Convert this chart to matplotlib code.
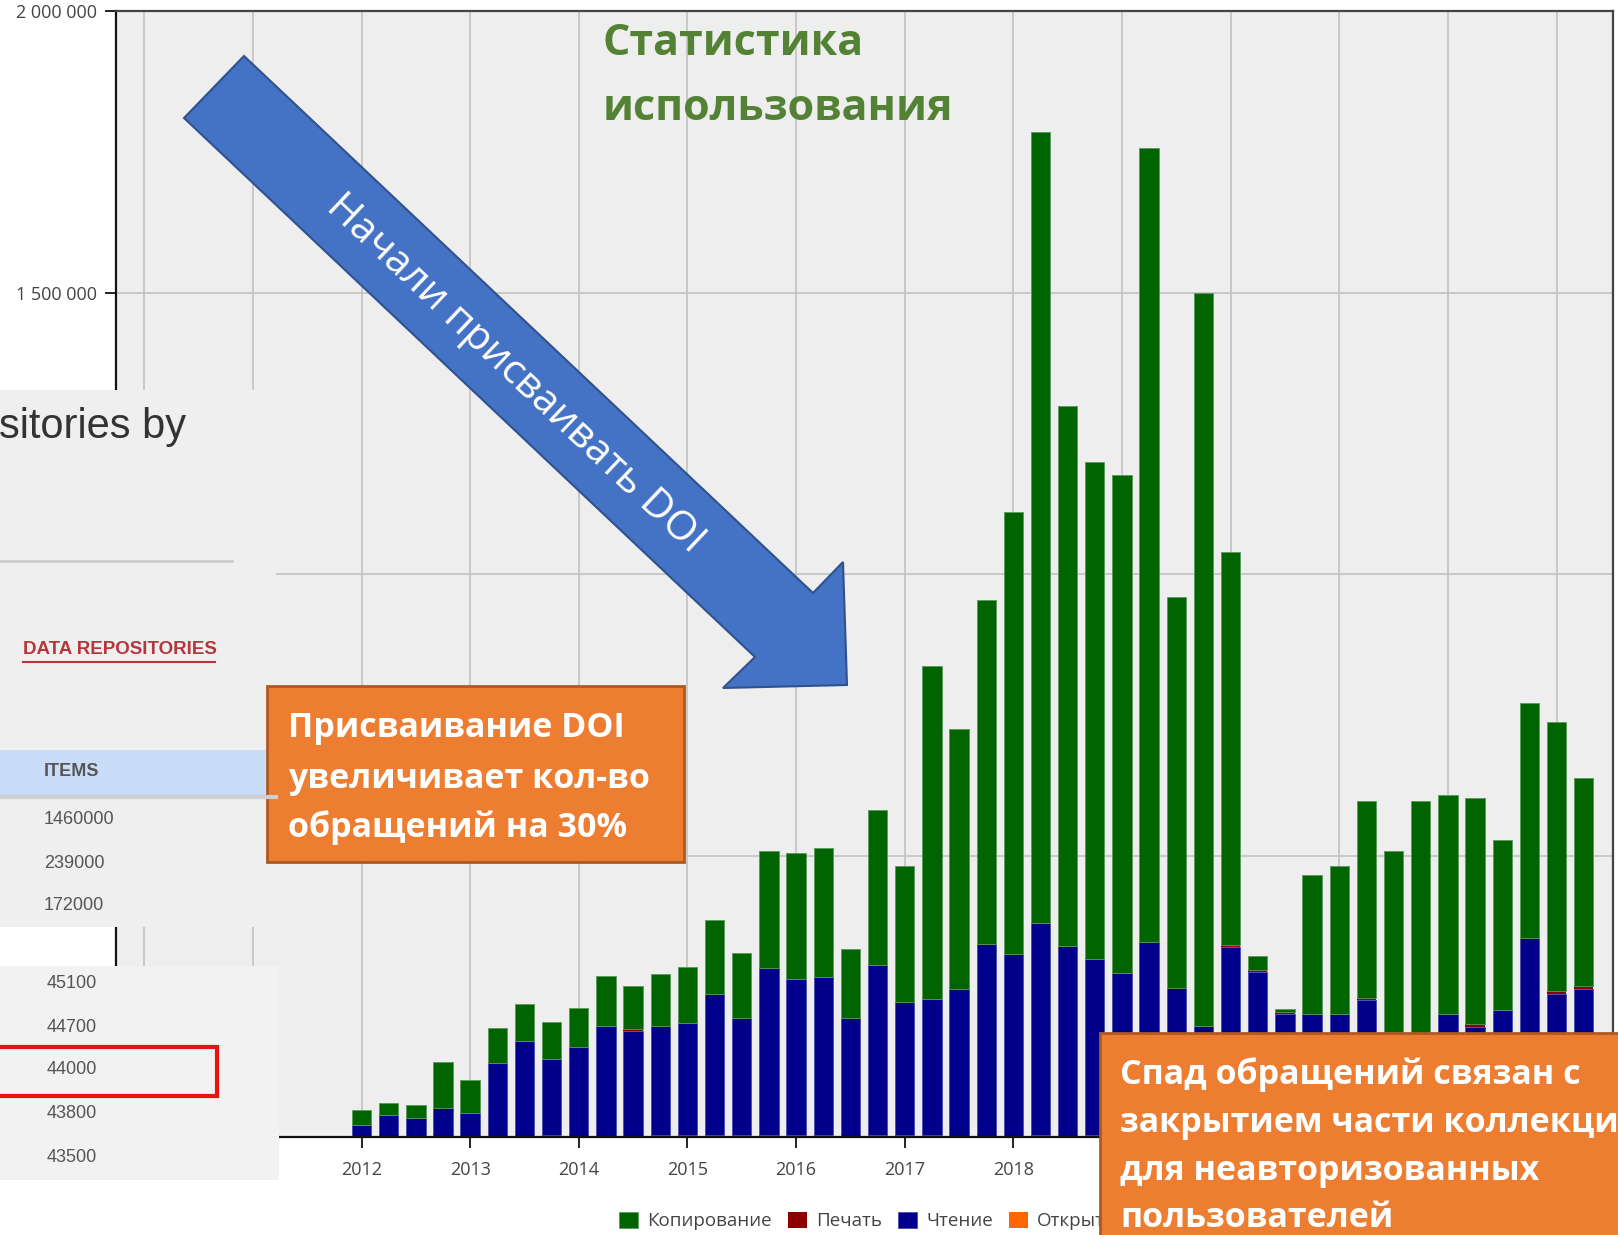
import matplotlib
matplotlib.use("Agg")
import matplotlib.pyplot as plt
from matplotlib.patches import Polygon, Rectangle
import numpy as np

W, H, DPI = 1618, 1235, 100

# ---------------- data (quarterly, starting 2012 Q1) ----------------
first_year = 2012
reading = [22000, 38500, 33000, 51000, 42000, 132000, 170500, 135000, 159500, 198000,
           188000, 194000, 197600, 250800, 206800, 296600, 276400, 280000, 210800, 302000,
           236000, 241600, 262000, 342800, 324400, 375400, 339000, 311300, 291400, 346400,
           264000, 198000, 337000, 293000, 219000, 218000, 218000, 243500, 186000, 180000,
           218000, 196000, 225500, 353800, 254500, 263600]          # Чтение
copying = [25700, 22000, 23800, 82800, 58800, 62300, 66000, 64500, 69500, 88000,
           75600, 91600, 100800, 130200, 115200, 207100, 223600, 229000, 122800, 275000,
           242000, 590400, 462000, 610200, 786600, 1405600, 959000, 883700, 883600, 1409600,
           696000, 1301000, 698000, 23800, 5000, 247600, 264000, 350100, 321700, 417600,
           388700, 403000, 302500, 417900, 478500, 370400]          # Копирование
printing = [0, 0, 0, 0, 0, 0, 0, 0, 0, 0,
            4000, 0, 0, 0, 0, 0, 0, 0, 0, 0,
            0, 0, 0, 0, 0, 0, 0, 0, 0, 0,
            0, 0, 4000, 4000, 3000, 0, 0, 4000, 0, 0,
            0, 4000, 0, 0, 4000, 4000]                              # Печать
opening = [0, 0, 0, 0, 0, 0, 0, 4000, 0, 0,
           0, 4000, 4000, 4000, 4000, 4000, 4000, 4000, 0, 4000,
           4000, 4000, 0, 0, 0, 4000, 0, 4000, 0, 0,
           0, 0, 0, 0, 0, 0, 0, 0, 0, 0,
           0, 0, 0, 0, 0, 0]                                        # Открытие

year_ticks = list(range(2010, 2024))
visible_year_labels = ["", "", "2012", "2013", "2014", "2015", "2016", "2017", "2018",
                       "", "", "", "", ""]   # the rest are hidden behind the overlays
y_ticks = [0, 500000, 1000000, 1500000, 2000000]
visible_y_labels = ["", "", "", "1 500 000", "2 000 000"]  # lower ones hidden by overlay
legend_labels = ["Копирование", "Печать", "Чтение", "Открытие"]

table_top_values = ["1460000", "239000", "172000"]
table_bottom_values = ["45100", "44700", "44000", "43800", "43500"]

title_lines = ["Статистика", "использования"]
arrow_text = "Начали присваивать DOI"
note1_lines = ["Присваивание DOI", "увеличивает кол-во", "обращений на 30%"]
note2_lines = ["Спад обращений связан с", "закрытием части коллекций",
               "для неавторизованных", "пользователей"]

# ---------------- colours ----------------
C_COPY, C_PRINT, C_READ, C_OPEN = "#006400", "#8B0000", "#00008B", "#FF6600"
ORANGE, ORANGE_EDGE = "#ED7D31", "#AE5A21"
ARROW, ARROW_EDGE = "#4472C4", "#2F528F"
TITLE_GREEN = "#548235"
SANS = ["Open Sans", "DejaVu Sans"]
ARIAL = ["Liberation Sans", "DejaVu Sans"]

fig = plt.figure(figsize=(W / DPI, H / DPI), dpi=DPI)
fig.patch.set_facecolor("white")

# ---------------- main chart ----------------
ax = fig.add_axes([116 / W, 1 - 1137 / H, (1613 - 116) / W, (1137 - 11) / H])
ax.set_facecolor("#eeeeee")

n = len(reading)
x = first_year + np.arange(n) / 4.0
opening_a = np.array(opening, float)
reading_a = np.array(reading, float)
printing_a = np.array(printing, float)
copying_a = np.array(copying, float)
bw = 0.178

h_open = ax.bar(x, opening_a, bw, color=C_OPEN, edgecolor="none")
h_read = ax.bar(x, reading_a, bw, bottom=opening_a, color=C_READ,
                edgecolor="#4a4ab0", linewidth=0.6)
h_print = ax.bar(x, printing_a, bw, bottom=opening_a + reading_a, color=C_PRINT,
                 edgecolor="none")
h_copy = ax.bar(x, copying_a, bw, bottom=opening_a + reading_a + printing_a,
                color=C_COPY, edgecolor="#5a9a5a", linewidth=0.6)

ax.set_xlim(2009.74, 2023.52)
ax.set_ylim(0, 2000000)
ax.set_xticks(year_ticks)
ax.set_xticklabels(visible_year_labels)
ax.set_yticks(y_ticks)
ax.set_yticklabels(visible_y_labels)
ax.grid(True, color="#c2c2c2", linewidth=1.2)
ax.set_axisbelow(True)
for s in ["left", "bottom"]:
    ax.spines[s].set_color("#111111")
    ax.spines[s].set_linewidth(1.6)
for s in ["top", "right"]:
    ax.spines[s].set_color("#444444")
    ax.spines[s].set_linewidth(1.6)
ax.tick_params(axis="both", direction="out", length=8, width=1.4, color="#222222",
               labelcolor="#444444", labelsize=13)
ax.tick_params(axis="x", pad=9)
ax.tick_params(axis="y", pad=6)
for lab in ax.get_xticklabels() + ax.get_yticklabels():
    lab.set_family(SANS)

leg = ax.legend([h_copy, h_print, h_read, h_open], legend_labels,
                loc="center left", bbox_to_anchor=(610 / W, 1 - 1221 / H),
                bbox_transform=fig.transFigure, ncol=4, frameon=False,
                handlelength=1.0, handleheight=1.0, handletextpad=0.5,
                columnspacing=0.85, borderpad=0, prop={"family": SANS, "size": 13.5})
for t in leg.get_texts():
    t.set_color("#444444")

# ---------------- overlay (pixel coordinates) ----------------
ov = fig.add_axes([0, 0, 1, 1])
ov.set_xlim(0, W)
ov.set_ylim(H, 0)
ov.axis("off")

# screenshot panel 1
ov.add_patch(Rectangle((0, 390), 276, 537, facecolor="#efefef", edgecolor="none"))
ov.plot([0, 232], [561, 561], color="#cccccc", lw=2)
ov.text(-1, 438, "sitories by", family=ARIAL, fontsize=30, color="#333333",
        ha="left", va="baseline")
ov.text(23, 650, "DATA REPOSITORIES", family=ARIAL, fontsize=13.5, fontweight="bold",
        color="#b5373b", ha="left", va="center")
ov.plot([23, 215], [662, 662], color="#b5373b", lw=1.5)
ov.add_patch(Rectangle((0, 750), 276, 45, facecolor="#c9ddf8", edgecolor="none"))
ov.plot([0, 276], [797, 797], color="#cfcfcf", lw=3)
ov.text(44, 772, "ITEMS", family=ARIAL, fontsize=13, fontweight="bold",
        color="#555555", ha="left", va="center")
for val, yy in zip(table_top_values, [820, 863, 906]):
    ov.text(44, yy, val, family=ARIAL, fontsize=13, color="#555555",
            ha="left", va="center")

# screenshot panel 2
ov.add_patch(Rectangle((0, 966), 279, 214, facecolor="#f2f2f2", edgecolor="none"))
for val, yy in zip(table_bottom_values, [983, 1027, 1070, 1113, 1158]):
    ov.text(47, yy, val, family=ARIAL, fontsize=13, color="#555555",
            ha="left", va="center")
ov.add_patch(Rectangle((-5, 1047), 222, 49, facecolor="none", edgecolor="#ee1111", lw=3))

# blue arrow
arrow_pts = [(244, 56), (813, 593), (843, 562), (847, 685), (723, 688), (755, 657), (184, 118)]
ov.add_patch(Polygon(arrow_pts, closed=True, facecolor=ARROW, edgecolor=ARROW_EDGE, lw=1.5))
ov.text(515, 374, arrow_text, family=SANS, fontsize=29.5, color="white",
        rotation=-43.35, rotation_mode="anchor", ha="center", va="center")

# title
ov.text(603, 55, title_lines[0], family=SANS, fontsize=31, fontweight="bold",
        color=TITLE_GREEN, ha="left", va="baseline")
ov.text(603, 120, title_lines[1], family=SANS, fontsize=31, fontweight="bold",
        color=TITLE_GREEN, ha="left", va="baseline")

# orange note 1
ov.add_patch(Rectangle((267, 686), 417, 176, facecolor=ORANGE, edgecolor=ORANGE_EDGE, lw=2))
for line, yy in zip(note1_lines, [737, 788, 837]):
    ov.text(288, yy, line, family=SANS, fontsize=24.5, fontweight="bold", color="white",
            ha="left", va="baseline")

# orange note 2
ov.add_patch(Rectangle((1100, 1033), 600, 300, facecolor=ORANGE, edgecolor=ORANGE_EDGE, lw=2))
for line, yy in zip(note2_lines, [1084, 1132, 1180, 1227]):
    ov.text(1120, yy, line, family=SANS, fontsize=24.5, fontweight="bold", color="white",
            ha="left", va="baseline")

fig.savefig("out.png", dpi=DPI)
